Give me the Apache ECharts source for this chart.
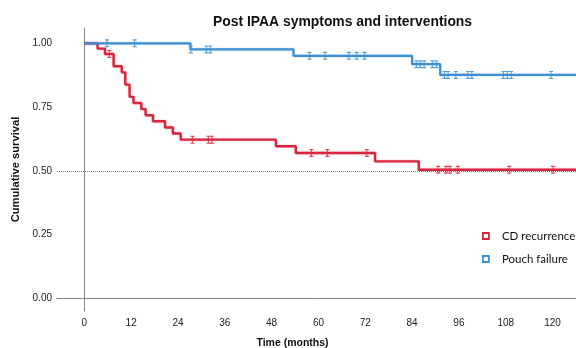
<!DOCTYPE html>
<html>
<head>
<meta charset="utf-8">
<script src="https://cdn.jsdelivr.net/npm/echarts@6/dist/echarts.min.js"></script>
<style>
  html, body { margin: 0; padding: 0; background: #fff; }
  #chart { width: 576px; height: 348px; }
</style>
</head>
<body>
<div id="chart"></div>
<script>
  // CD recurrence steps (months, survival after event)
  const cdTimes = [0, 3.4, 5.3, 7.5, 9.6, 10.5, 11.6, 12.6, 14.6, 15.7, 17.6, 20.7, 22.7, 24.7, 49.1, 54.2, 74.5, 85.7, 126];
  const cdSurv = [1, 0.979, 0.958, 0.91, 0.886, 0.838, 0.79, 0.766, 0.742, 0.718, 0.694, 0.67, 0.646, 0.622, 0.596, 0.57, 0.537, 0.504, 0.504];
  const cdCensorTimes = [6.4, 27.7, 31.8, 32.7, 58.2, 62.3, 72.4, 90.7, 92.7, 93.7, 95.7, 108.9, 120.1];
  const cdCensorSurv = [0.958, 0.622, 0.622, 0.622, 0.57, 0.57, 0.57, 0.504, 0.504, 0.504, 0.504, 0.504, 0.504];

  // Pouch failure steps
  const pfTimes = [0, 27.2, 53.6, 84.0, 91.2, 126];
  const pfSurv = [1, 0.976, 0.951, 0.918, 0.876, 0.876];
  const pfCensorTimes = [5.8, 12.9, 27.3, 31.3, 32.3, 57.7, 61.7, 67.8, 69.8, 71.8, 85.1, 86.1, 87.1, 89.2, 90.2, 92.3, 93.2, 95.2, 98.3, 99.3, 107.4, 108.4, 109.4, 119.6];
  const pfCensorSurv = [1, 1, 0.976, 0.976, 0.976, 0.951, 0.951, 0.951, 0.951, 0.951, 0.918, 0.918, 0.918, 0.918, 0.918, 0.876, 0.876, 0.876, 0.876, 0.876, 0.876, 0.876, 0.876, 0.876];

  const xTicks = [0, 12, 24, 36, 48, 60, 72, 84, 96, 108, 120];
  const yTicks = [0, 0.25, 0.5, 0.75, 1];

  const red = '#d7263d';
  const blue = '#3b8fd4';
  const font = 'Liberation Sans, Arial, sans-serif';
  // I-beam shaped censor mark
  const censorMark = 'path://M0,0 L5,0 L5,1.2 L3.1,1.2 L3.1,6.8 L5,6.8 L5,8 L0,8 L0,6.8 L1.9,6.8 L1.9,1.2 L0,1.2 Z';

  const zip = (a, b) => a.map((v, i) => [v, b[i]]);

  const chart = echarts.init(document.getElementById('chart'));
  const option = {
    animation: false,
    title: {
      text: 'Post IPAA symptoms and interventions',
      left: 208,
      top: 10,
      textStyle: { fontFamily: font, fontSize: 13.9, fontWeight: 'bold', color: '#111' }
    },
    legend: {
      orient: 'vertical',
      left: 477,
      top: 225,
      itemWidth: 6,
      itemHeight: 6,
      itemGap: 11,
      textStyle: { fontFamily: 'Lato, Noto Sans, sans-serif', fontSize: 11.5, color: '#111', padding: [0, 0, 0, 8] },
      data: [
        { name: 'CD recurrence', icon: 'rect', itemStyle: { color: '#fff', borderColor: red, borderWidth: 1.8 } },
        { name: 'Pouch failure', icon: 'rect', itemStyle: { color: '#fff', borderColor: blue, borderWidth: 1.8 } }
      ]
    },
    grid: { left: 57, right: 0, top: 28, bottom: 37, outerBoundsMode: 'none' },
    xAxis: {
      type: 'value',
      min: -7,
      max: 126,
      name: 'Time (months)',
      nameLocation: 'middle',
      nameGap: 27,
      nameTextStyle: { fontFamily: font, fontSize: 10.5, fontWeight: 'bold', color: '#111', padding: [0, 48, 0, 0] },
      axisLine: { lineStyle: { color: '#888', width: 1 } },
      axisTick: { show: false },
      splitLine: { show: false },
      axisLabel: { customValues: xTicks, fontFamily: font, fontSize: 10, color: '#222', margin: 7 }
    },
    yAxis: {
      type: 'value',
      min: -0.05,
      max: 1.06,
      name: 'Cumulative survival',
      nameLocation: 'middle',
      nameGap: 32,
      nameTextStyle: { fontFamily: font, fontSize: 11.2, fontWeight: 'bold', color: '#111' },
      axisLine: { show: true, lineStyle: { color: '#888', width: 1 } },
      axisTick: { show: false },
      splitLine: { show: false },
      axisLabel: { customValues: yTicks, formatter: v => v.toFixed(2), fontFamily: font, fontSize: 10, color: '#222', margin: 5 }
    },
    series: [
      {
        name: 'CD recurrence',
        type: 'line',
        step: 'end',
        symbol: 'none',
        data: zip(cdTimes, cdSurv),
        lineStyle: { color: red, width: 2.4, shadowColor: 'rgba(215,38,61,0.35)', shadowBlur: 2 },
        itemStyle: { color: red },
        z: 3,
        markLine: {
          silent: true,
          symbol: 'none',
          label: { show: false },
          lineStyle: { color: '#777', type: 'dotted', width: 1 },
          data: [{ yAxis: 0.5 }],
          z: 1
        }
      },
      {
        name: 'Pouch failure',
        type: 'line',
        step: 'end',
        symbol: 'none',
        data: zip(pfTimes, pfSurv),
        lineStyle: { color: blue, width: 2.2, shadowColor: 'rgba(59,143,212,0.35)', shadowBlur: 2 },
        itemStyle: { color: blue },
        z: 3
      },
      {
        name: 'CD censored',
        type: 'scatter',
        symbol: censorMark,
        symbolSize: [4, 8],
        data: zip(cdCensorTimes, cdCensorSurv),
        itemStyle: { color: red, opacity: 0.85 },
        z: 4
      },
      {
        name: 'Pouch censored',
        type: 'scatter',
        symbol: censorMark,
        symbolSize: [4, 8],
        data: zip(pfCensorTimes, pfCensorSurv),
        itemStyle: { color: blue, opacity: 0.85 },
        z: 4
      }
    ]
  };
  chart.setOption(option);
</script>
</body>
</html>
